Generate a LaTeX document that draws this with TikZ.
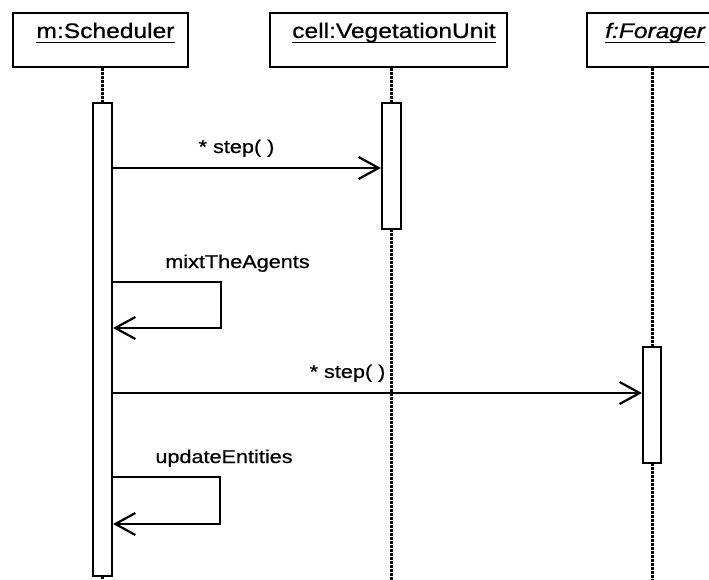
\documentclass[tikz,border=0pt]{standalone}
\usepackage{fontspec}
\setmainfont{Liberation Sans}
\newfontfamily\widefont[FakeStretch=1.17,FakeBold=0.6]{Liberation Sans}
\usetikzlibrary{arrows.meta}
\begin{document}
\begin{tikzpicture}[x=1pt,y=-1pt,
  hbox/.style={draw,line width=2.4pt,minimum height=54pt,inner sep=0pt},
  bar/.style={draw,fill=white,line width=2.2pt,minimum width=19pt,inner sep=0pt},
  life/.style={line width=3pt,dash pattern=on 2.5pt off 1.5pt},
  msg/.style={line width=2.2pt,-{Straight Barb[length=20pt,width=22pt,line width=2.2pt]}},
  htxt/.style={font=\widefont\fontsize{21pt}{24pt}\selectfont,inner sep=0pt,anchor=base},
  ltxt/.style={font=\widefont\fontsize{18.5pt}{22pt}\selectfont,inner sep=0pt,anchor=base},
  uline/.style={line width=1.8pt}]
\clip (0,0) rectangle (709,580);
\fill[white] (0,0) rectangle (709,580);
\coordinate (bot) at (0,580);
% headers
\node[hbox,minimum width=175pt] (hs) at (100.5,40) {};
\node[hbox,minimum width=237pt] (hv) at (388.5,40) {};
\node[hbox,minimum width=152pt] (hf) at (663,40) {};
\node[htxt] (ts) at (105.5,38) {m:Scheduler};
\node[htxt] (tv) at (394,38) {cell:VegetationUnit};
\node[htxt,anchor=base west] (tf) at (605,38) {\itshape f:Forager};
\draw[uline] ([yshift=-4.5pt]ts.base west) -- ([yshift=-4.5pt]ts.base east);
\draw[uline] ([yshift=-4.5pt]tv.base west) -- ([yshift=-4.5pt]tv.base east);
\draw[uline] ([yshift=-4.5pt]tf.base west) -- ([yshift=-4.5pt]tf.base east);
% activation bars (positions)
\coordinate (asc) at (102.5,339.5);
\coordinate (avc) at (391.5,166);
\coordinate (afc) at (652,405);
% lifelines
\draw[life] (asc |- hs.south) -- (asc |- 0,103);
\draw[life] (avc |- hv.south) -- (avc |- 0,103);
\draw[life] (avc |- 0,229) -- (avc |- bot);
\draw[life] (afc |- hf.south) -- (afc |- 0,347);
\draw[life] (afc |- 0,463) -- (afc |- bot);
\draw[life] (asc |- 0,576) -- (asc |- bot);
% bars
\node[bar,minimum height=473pt] (as) at (asc) {};
\node[bar,minimum height=126pt] (av) at (avc) {};
\node[bar,minimum width=18pt,minimum height=116pt] (af) at (afc) {};
% messages
\draw[msg] (as.east |- 0,168) -- (av.west |- 0,168);
\node[ltxt] (l1) at (236.5,153) {* step( )};
\draw[msg] (as.east |- 0,282) -- (221,282) -- (221,328) -- (as.east |- 0,328);
\node[ltxt] (l2) at (237.5,268) {mixtTheAgents};
\draw[msg] (as.east |- 0,393) -- (af.west |- 0,393);
\node[ltxt] (l3) at (347.5,378) {* step( )};
\draw[msg] (as.east |- 0,477) -- (220,477) -- (220,524) -- (as.east |- 0,524);
\node[ltxt] (l4) at (224,463) {updateEntities};
\end{tikzpicture}
\end{document}
